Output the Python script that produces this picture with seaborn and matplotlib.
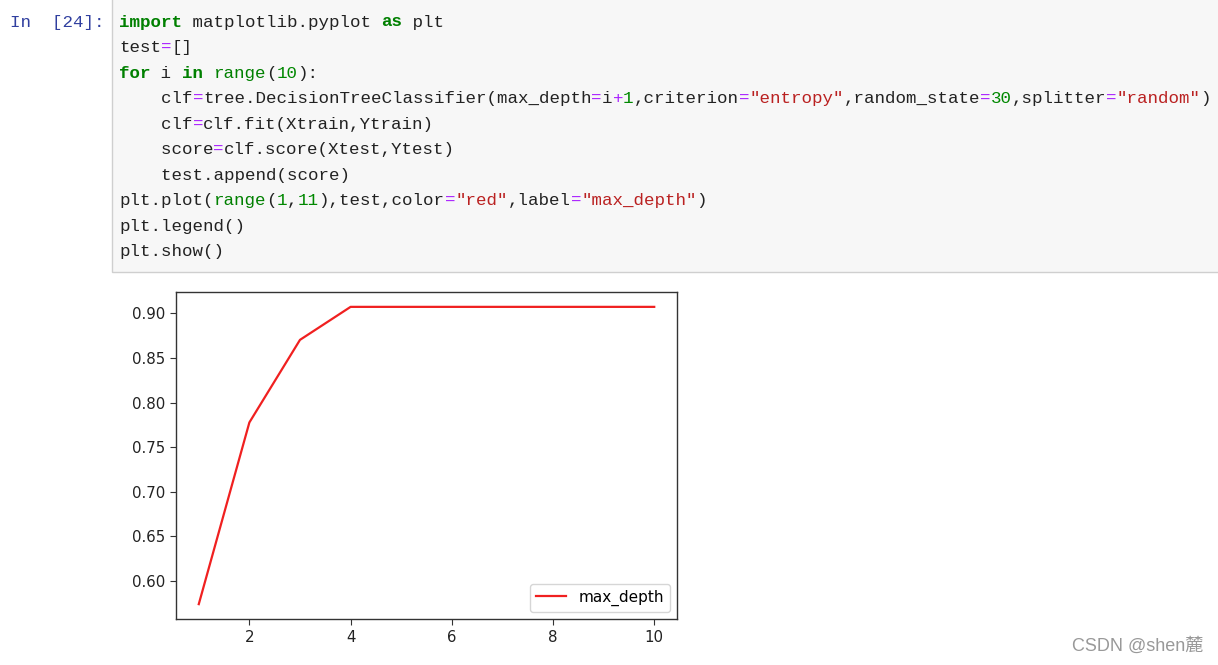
import matplotlib
matplotlib.use("Agg")
import matplotlib.pyplot as plt
from matplotlib.patches import Rectangle
import seaborn as sns
import pandas as pd

# ---- data ----
max_depth = [1, 2, 3, 4, 5, 6, 7, 8, 9, 10]
scores = [0.5741, 0.7778, 0.8704, 0.9074, 0.9074, 0.9074, 0.9074, 0.9074, 0.9074, 0.9074]
series_label = "max_depth"
x_ticks = [2, 4, 6, 8, 10]
y_ticks = [0.60, 0.65, 0.70, 0.75, 0.80, 0.85, 0.90]

W, H = 1218, 665
fig = plt.figure(figsize=(W / 100, H / 100), dpi=100)
fig.patch.set_facecolor("white")

# ---- notebook code cell ----
fig.patches.append(Rectangle((112 / W, 1 - 272 / H), (W + 10 - 112) / W, 290 / H,
                             transform=fig.transFigure, facecolor="#f7f7f7",
                             edgecolor="#cfcfcf", linewidth=1.0, zorder=0))

MONO = "Liberation Mono"
FS = 12.6
CW = 10.5  # px per character
N, KW, BI, NUM, STR, OP = "#222222", "#008000", "#008000", "#008800", "#BA2121", "#AA22FF"

code_lines = [
    [("import", KW, True), (" matplotlib.pyplot ", N, False), ("as", KW, True), (" plt", N, False)],
    [("test", N, False), ("=", OP, False), ("[]", N, False)],
    [("for", KW, True), (" i ", N, False), ("in", KW, True), (" ", N, False), ("range", BI, False),
     ("(", N, False), ("10", NUM, False), ("):", N, False)],
    [("    clf", N, False), ("=", OP, False), ("tree.DecisionTreeClassifier(max_depth", N, False),
     ("=", OP, False), ("i", N, False), ("+", OP, False), ("1", NUM, False), (",criterion", N, False),
     ("=", OP, False), ('"entropy"', STR, False), (",random_state", N, False), ("=", OP, False),
     ("30", NUM, False), (",splitter", N, False), ("=", OP, False), ('"random"', STR, False), (")", N, False)],
    [("    clf", N, False), ("=", OP, False), ("clf.fit(Xtrain,Ytrain)", N, False)],
    [("    score", N, False), ("=", OP, False), ("clf.score(Xtest,Ytest)", N, False)],
    [("    test.append(score)", N, False)],
    [("plt.plot(", N, False), ("range", BI, False), ("(", N, False), ("1", NUM, False), (",", N, False),
     ("11", NUM, False), ("),test,color", N, False), ("=", OP, False), ('"red"', STR, False),
     (",label", N, False), ("=", OP, False), ('"max_depth"', STR, False), (")", N, False)],
    [("plt.legend()", N, False)],
    [("plt.show()", N, False)],
]

fig.text(10 / W, 1 - 22 / H, "In  [24]:", fontsize=FS, family=MONO, color="#303F9F",
         va="center", ha="left")
y0, dy, x0 = 22, 25.55, 119
for li, segs in enumerate(code_lines):
    col = 0
    yy = y0 + li * dy
    for txt, c, bold in segs:
        fig.text((x0 + col * CW) / W, 1 - yy / H, txt, fontsize=FS, family=MONO, color=c,
                 fontweight="bold" if bold else "normal", va="center", ha="left")
        col += len(txt)

# ---- chart ----
ax = fig.add_axes([176 / W, 1 - 619 / H, (677 - 176) / W, (619 - 292) / H])
df = pd.DataFrame({"depth": max_depth, "score": scores})
sns.lineplot(data=df, x="depth", y="score", color="#f02020", label=series_label, ax=ax, linewidth=1.6)
ax.set_xticks(x_ticks)
ax.set_yticks(y_ticks)
ax.set_yticklabels([f"{v:.2f}" for v in y_ticks])
ax.set_xlabel("")
ax.set_ylabel("")
ax.tick_params(labelsize=10.8, colors="#333333", labelcolor="#222222", length=4.5)
for s in ax.spines.values():
    s.set_color("#333333")
    s.set_linewidth(1.0)
ax.legend(loc="lower right", fontsize=11, frameon=True, borderaxespad=0.45)

# ---- watermark ----
fig.text(1203 / W, 1 - 646 / H, "CSDN @shen麓", fontsize=13, color="#999999",
         family=["Liberation Sans", "Noto Sans CJK SC"], ha="right", va="center")

fig.savefig("out.png", dpi=100)
